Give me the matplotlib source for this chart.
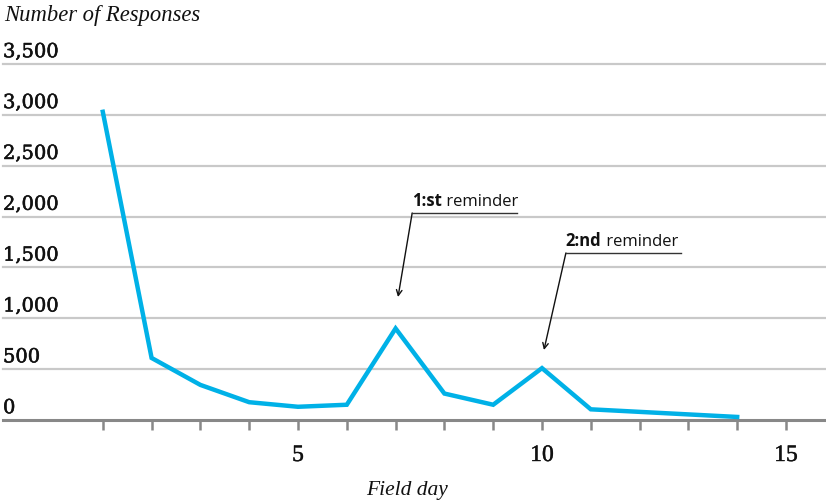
"""Responses per field day, with reminder annotations."""

import matplotlib
matplotlib.use("Agg")
import matplotlib.pyplot as plt
import matplotlib.patheffects as pe
from matplotlib.transforms import blended_transform_factory

# data
days = [1, 2, 3, 4, 5, 6, 7, 8, 9, 10, 11, 12, 13, 14]
responses = [3030, 610, 345, 175, 130, 150, 900, 260, 150, 510, 105, 80, 55, 30]
y_ticks = [0, 500, 1000, 1500, 2000, 2500, 3000, 3500]
x_labels = [5, 10, 15]
reminders = [("1:st", " reminder"), ("2:nd", " reminder")]

LINE_COLOR = "#00b1e7"
GRID_COLOR = "#c9c9c9"
AXIS_COLOR = "#888888"
TEXT_COLOR = "#111111"
DPI = 100

fig = plt.figure(figsize=(8.26, 5.04), dpi=DPI)
# axes spans from pixel x=3 to right edge; y=0 at px 420, 3500 at px 64
ax = fig.add_axes([3 / 826, 84 / 504, 823 / 826, 356 / 504])
ax.set_xlim(-1.045, 15.82)
ax.set_ylim(0, 3500)
ax.set_facecolor("none")
for side in ["top", "right", "left", "bottom"]:
    ax.spines[side].set_visible(False)

# horizontal grid lines
for v in y_ticks[1:]:
    ax.axhline(v, color=GRID_COLOR, linewidth=1.6, zorder=1, clip_on=False)
ax.axhline(0, color=AXIS_COLOR, linewidth=2.2, zorder=2, clip_on=False)

# y labels sit just above each grid line at the left edge
thicken = [pe.withStroke(linewidth=0.4, foreground=TEXT_COLOR)]
trans = blended_transform_factory(ax.transAxes, ax.transData)
for v in y_ticks:
    ax.annotate(f"{v:,}", xy=(0, v), xycoords=trans, xytext=(0, 2),
                textcoords="offset points", ha="left", va="bottom",
                fontsize=14, family="DejaVu Serif", color=TEXT_COLOR,
                path_effects=thicken)

# x ticks
ax.set_yticks([])
ax.set_xticks(range(1, 16))
ax.set_xticklabels([str(d) if d in x_labels else "" for d in range(1, 16)],
                   family="Liberation Serif", fontsize=17)
ax.tick_params(axis="x", direction="out", length=7, width=1.8,
               color=AXIS_COLOR, pad=11, labelcolor=TEXT_COLOR)
for lbl in ax.get_xticklabels():
    lbl.set_path_effects([pe.withStroke(linewidth=0.3, foreground=TEXT_COLOR)])

ax.plot(days, responses, color=LINE_COLOR, linewidth=3.2,
        solid_joinstyle="miter", zorder=3, clip_on=False)

# titles
fig.text(4 / 826, 1 - 16 / 504, "Number of Responses", family="Liberation Serif",
         style="italic", fontsize=16.3, va="center", ha="left", color=TEXT_COLOR)
fig.text(407 / 826, 1 - 490 / 504, "Field day", family="Liberation Serif",
         style="italic", fontsize=15.5, va="center", ha="center", color=TEXT_COLOR)

# reminder annotations: underline start/end, arrow tip
anno_layout = [
    ((7.34, 9.49, 2035), (7.05, 1209)),
    ((10.49, 12.85, 1642), (10.04, 688)),
]
for (bold, rest), ((x0, x1, yl), tip) in zip(reminders, anno_layout):
    t1 = ax.annotate(bold, xy=(x0, yl), xytext=(0, 2), textcoords="offset points",
                     ha="left", va="bottom", family="Open Sans", fontweight="bold",
                     fontsize=12, color=TEXT_COLOR)
    ax.annotate(rest, xy=(1, 0), xycoords=t1, ha="left", va="bottom",
                family="Open Sans", fontsize=12, color=TEXT_COLOR)
    ax.plot([x0, x1], [yl, yl], color="#333333", linewidth=1.0, zorder=4)
    ax.annotate("", xy=tip, xytext=(x0, yl),
                arrowprops=dict(arrowstyle="->", color=TEXT_COLOR, lw=1.0,
                                mutation_scale=10, shrinkA=0, shrinkB=0))

fig.savefig("out.png", dpi=DPI)
